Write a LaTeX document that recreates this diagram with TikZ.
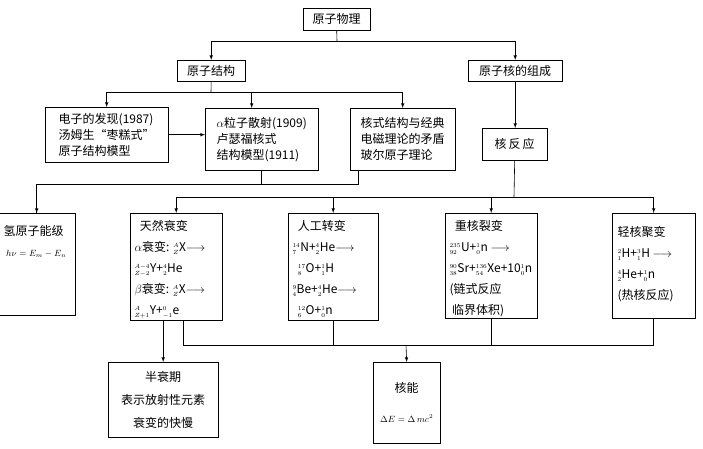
\documentclass[tikz,border=0pt]{standalone}
\usepackage{fontspec}
\setmainfont{Noto Sans CJK SC}
\usetikzlibrary{positioning}
\tikzset{
  box/.style={draw,anchor=north west,align=left,inner sep=2pt,font=\fontsize{12}{16}\selectfont},
  inner/.style={anchor=north west,align=left,font=\fontsize{12}{21}\selectfont},
  link/.style={semithick},
}
\newcommand{\nuc}[3]{$^{\scriptscriptstyle #1}_{\scriptscriptstyle #2}$#3}
\begin{document}
\begin{tikzpicture}[x=1pt,y=-1pt,>=latex]
    \useasboundingbox (0,0) rectangle (703,448);
    % top levels
    \node[box,minimum width=67,minimum height=22,align=center] (top) at (303,8) {原子物理};
    \node[box,minimum width=68,minimum height=21,align=center] (as) at (177,60) {原子结构};
    \node[box,minimum width=94,minimum height=21,align=center] (nuc) at (468,60) {原子核的组成};

    % atomic structure
    \node[box,minimum width=123,minimum height=55] (e) at (45,107) {电子的发现(1987)\\汤姆生“枣糕式”\\原子结构模型};
    \node[box,minimum width=113,minimum height=62] (alpha) at (205,108) {$\alpha$粒子散射(1909)\\卢瑟福核式\\结构模型(1911)};
    \node[box,minimum width=105,minimum height=62] (core) at (350,108) {核式结构与经典\\电磁理论的矛盾\\玻尔原子理论};
    \node[box,minimum width=65,minimum height=32,align=center] (nr) at (482,128) {核\,反\,应};

    % third row
    \node[box,minimum width=77,minimum height=102] (h) at (-2,213) {};
    \node[inner] (ht) at (0,222) {氢原子能级\\\ {\small$h\nu=E_m-E_n$}};
    \node[box,minimum width=92,minimum height=107] (nat) at (130,213) {};
    \node[inner] (natt) at (131,217)
      {\ \ 天然衰变\\$\alpha$衰变: \nuc{A}{Z}X$\longrightarrow$\\\nuc{A-4}{Z-2}Y+\nuc{4}{2}He\\$\beta$衰变: \nuc{A}{Z}X$\longrightarrow$\\\nuc{A}{Z+1}Y+\nuc{0}{-1}e};
    \node[box,minimum width=90,minimum height=107] (art) at (288,213) {};
    \node[inner] (artt) at (289,217)
      {\ \ 人工转变\\\nuc{14}{7}N+\nuc{4}{2}He$\longrightarrow$\\\ \ \nuc{17}{8}O+\nuc{1}{1}H\\\nuc{9}{4}Be+\nuc{4}{2}He$\longrightarrow$\\\ \ \nuc{12}{6}O+\nuc{1}{0}n};
    \node[box,minimum width=92,minimum height=105] (fis) at (445,213) {};
    \node[inner] (fist) at (446,217)
      {\ \ 重核裂变\\\nuc{235}{92}U+\nuc{1}{0}n\ $\longrightarrow$\\\nuc{90}{38}Sr+\nuc{136}{54}Xe+10\nuc{1}{0}n\\(链式反应\\\ 临界体积)};
    \node[box,minimum width=83,minimum height=105] (fus) at (612,213) {};
    \node[inner] (fust) at (614,223)
      {轻核聚变\\\nuc{2}{1}H+\nuc{3}{1}H\ $\longrightarrow$\\\nuc{4}{2}He+\nuc{1}{0}n\\(热核反应)};

    % bottom row
    \node[box,minimum width=110,minimum height=75,align=center,font=\fontsize{12}{23}\selectfont] (half) at (108,362) {半衰期\\表示放射性元素\\衰变的快慢};
    \node[box,minimum width=67,minimum height=81,align=center,font=\fontsize{12}{30}\selectfont] (en) at (373,362) {核能\\{\small$\Delta E=\Delta\,mc^2$}};

    % connectors
    \coordinate (j1) at (337,41);
    \draw[link] (top.south) -- (j1);
    \draw[link,->] (j1) -| (as.north);
    \draw[link,->] (j1) -| (nuc.north);
    \coordinate (j2) at (211,92);
    \draw[link] (as.south) -- (j2);
    \draw[link,->] (j2) -| (e.north);
    \draw[link,->] (j2) -| ([xshift=-10]alpha.north);
    \draw[link,->] (j2) -| (core.north);
    \draw[link,->] (nuc.south) -- (nuc.south |- nr.north);
    \draw[link,->] (e.east) -- (e.east -| alpha.west);
    \coordinate (j3) at (258,184);
    \draw[link] (alpha.south) -- (alpha.south |- j3) -| (h.north);
    \draw[link] ([xshift=-44]core.south) |- (j3);
    \draw[link,->] (h.north |- j3) -- (h.north);
    \coordinate (j5) at (514,197);
    \draw[link] (nr.south) -- (j5);
    \draw[link,->] (j5) -| (nat.north);
    \draw[link,->] (j5) -| (art.north);
    \draw[link,->] (j5) -| (fis.north);
    \draw[link,->] (j5) -| (fus.north);
    \coordinate (j4) at (406,345);
    \draw[link,->] (nat.south -| half.north) -- (half.north);
    \draw[link] ([xshift=7]nat.south) |- (j4) -| (fus.south);
    \draw[link] (art.south) -- (art.south |- j4);
    \draw[link] (fis.south) -- (fis.south |- j4);
    \draw[link,->] (j4) -- (en.north);
\end{tikzpicture}
\end{document}
